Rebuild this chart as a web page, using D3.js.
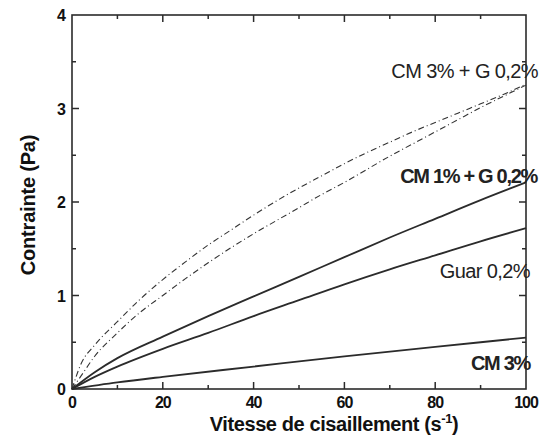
<!DOCTYPE html>
<html>
<head>
<meta charset="utf-8">
<script src="https://cdn.jsdelivr.net/npm/d3@7"></script>
<style>
  body { margin: 0; background: #fff; }
  svg { font-family: "Liberation Sans", Arial, sans-serif; }
</style>
</head>
<body>
<div id="chart"></div>
<script>
// shear rate (s-1) and stress (Pa)
var cm3g02Upper = [[0,0],[2,0.27],[5,0.47],[10,0.72],[15,0.96],[20,1.17],[25,1.36],[30,1.54],[35,1.7],[40,1.86],[45,2.01],[50,2.15],[55,2.28],[60,2.41],[65,2.53],[70,2.64],[75,2.75],[80,2.85],[85,2.95],[90,3.05],[95,3.15],[100,3.26]];
var cm3g02Lower = [[0,0],[2,0.14],[5,0.35],[10,0.6],[15,0.82],[20,1.0],[25,1.18],[30,1.35],[35,1.51],[40,1.66],[45,1.8],[50,1.94],[55,2.08],[60,2.21],[65,2.35],[70,2.49],[75,2.62],[80,2.75],[85,2.88],[90,3.01],[95,3.13],[100,3.25]];
var cm1g02 = [[0,0],[5,0.18],[10,0.33],[20,0.56],[30,0.78],[40,0.99],[50,1.2],[60,1.41],[70,1.62],[80,1.82],[90,2.02],[100,2.21]];
var guar02 = [[0,0],[5,0.13],[10,0.24],[20,0.43],[30,0.6],[40,0.78],[50,0.95],[60,1.12],[70,1.28],[80,1.43],[90,1.58],[100,1.72]];
var cm3 = [[0,0],[10,0.07],[20,0.13],[40,0.24],[60,0.35],[80,0.45],[100,0.55]];

var xTicks = [0, 20, 40, 60, 80, 100];
var yTicks = [0, 1, 2, 3, 4];
var xMinor = [10, 30, 50, 70, 90];
var yMinor = [0.5, 1.5, 2.5, 3.5];

var labelTexts = ["CM 3% + G 0,2%", "CM 1% + G 0,2%", "Guar 0,2%", "CM 3%"];

var margin = {top: 15, right: 13, bottom: 56, left: 72},
    width = 539 - margin.left - margin.right,
    height = 445 - margin.top - margin.bottom;

var svg = d3.select("#chart")
    .append("svg")
    .attr("width", 539)
    .attr("height", 445);

var g = svg.append("g")
    .attr("transform", "translate(" + margin.left + "," + margin.top + ")");

var x = d3.scaleLinear().domain([0, 100]).range([0, width]);
var y = d3.scaleLinear().domain([0, 4]).range([height, 0]);

var ink = "#2b2b2b";

// frame
g.append("rect")
    .attr("width", width)
    .attr("height", height)
    .attr("fill", "none")
    .attr("stroke", ink)
    .attr("stroke-width", 1.6);

// inward ticks on all four sides
function xTickMarks(vals, len) {
    g.selectAll(null).data(vals).enter().append("line")
        .attr("x1", x).attr("x2", x)
        .attr("y1", height).attr("y2", height - len)
        .attr("stroke", ink).attr("stroke-width", 1.5);
    g.selectAll(null).data(vals).enter().append("line")
        .attr("x1", x).attr("x2", x)
        .attr("y1", 0).attr("y2", len)
        .attr("stroke", ink).attr("stroke-width", 1.5);
}
function yTickMarks(vals, len) {
    g.selectAll(null).data(vals).enter().append("line")
        .attr("y1", y).attr("y2", y)
        .attr("x1", 0).attr("x2", len)
        .attr("stroke", ink).attr("stroke-width", 1.5);
    g.selectAll(null).data(vals).enter().append("line")
        .attr("y1", y).attr("y2", y)
        .attr("x1", width).attr("x2", width - len)
        .attr("stroke", ink).attr("stroke-width", 1.5);
}
xTickMarks(xTicks.slice(1, -1), 7);
xTickMarks(xMinor, 4);
yTickMarks(yTicks.slice(1, -1), 7);
yTickMarks(yMinor, 4);

// tick labels
g.selectAll(".xlab").data(xTicks).enter().append("text")
    .attr("class", "xlab")
    .attr("x", x)
    .attr("y", height + 19)
    .attr("text-anchor", "middle")
    .attr("fill", "#111")
    .style("font-size", "16px")
    .style("font-weight", "bold")
    .style("letter-spacing", "-1px")
    .text(function(d) { return d; });

g.selectAll(".ylab").data(yTicks).enter().append("text")
    .attr("class", "ylab")
    .attr("x", -6)
    .attr("y", function(d) { return y(d) + 6; })
    .attr("text-anchor", "end")
    .attr("fill", "#111")
    .style("font-size", "16px")
    .style("font-weight", "bold")
    .text(function(d) { return d; });

// curves
var line = d3.line()
    .curve(d3.curveMonotoneX)
    .x(function(d) { return x(d[0]); })
    .y(function(d) { return y(d[1]); });

[cm3g02Upper, cm3g02Lower].forEach(function(s) {
    g.append("path")
        .datum(s)
        .attr("fill", "none")
        .attr("stroke", "#333")
        .attr("stroke-width", 1.1)
        .attr("stroke-dasharray", "6,3,1,3")
        .attr("d", line);
});

[cm1g02, guar02, cm3].forEach(function(s) {
    g.append("path")
        .datum(s)
        .attr("fill", "none")
        .attr("stroke", ink)
        .attr("stroke-width", 1.8)
        .attr("d", line);
});

// curve labels, right-aligned at the right edge
var labelBase = [63, 168, 263, 355];
var labelShift = [12, 11, 4, 4];
var labelBold = [false, true, false, true];
labelTexts.forEach(function(t, i) {
    g.append("text")
        .attr("x", width + labelShift[i])
        .attr("y", labelBase[i])
        .attr("text-anchor", "end")
        .attr("fill", "#222")
        .style("font-size", "20px")
        .style("font-weight", labelBold[i] ? "bold" : "normal")
        .style("letter-spacing", labelBold[i] ? "-1.3px" : "-0.6px")
        .text(t);
});

// axis titles
var xt = svg.append("text")
    .attr("x", 334)
    .attr("y", 431)
    .attr("text-anchor", "middle")
    .attr("fill", "#111")
    .style("font-size", "20px")
    .style("font-weight", "bold")
    .style("letter-spacing", "-0.4px")
    .text("Vitesse de cisaillement (s");
xt.append("tspan")
    .attr("dy", -8)
    .style("font-size", "13px")
    .text("-1");
xt.append("tspan")
    .attr("dy", 8)
    .text(")");

svg.append("text")
    .attr("transform", "translate(35,205) rotate(-90)")
    .attr("text-anchor", "middle")
    .attr("fill", "#111")
    .style("font-size", "20px")
    .style("font-weight", "bold")
    .style("letter-spacing", "-0.2px")
    .text("Contrainte (Pa)");
</script>
</body>
</html>
